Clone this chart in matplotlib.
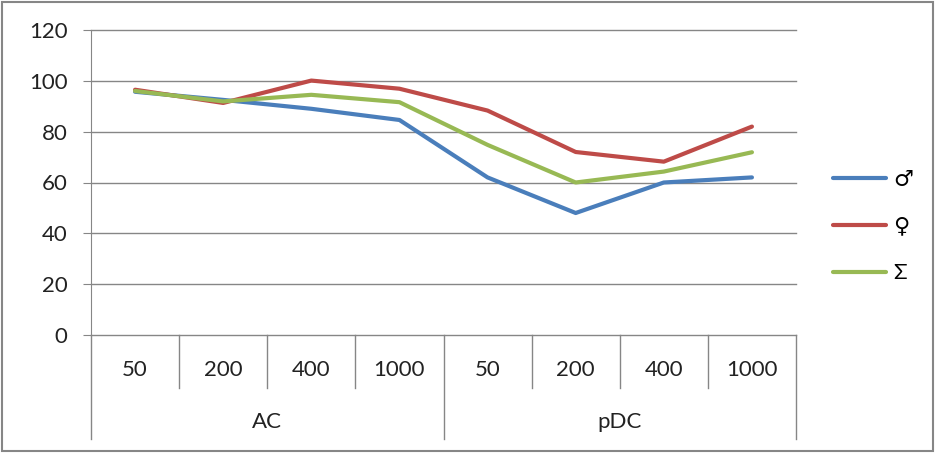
# Package Import
import matplotlib
matplotlib.use('Agg')
import matplotlib.pyplot as plt
from matplotlib.patches import Rectangle

# Data
groups = ['AC', 'pDC']
doses = ['50', '200', '400', '1000']
series_labels = ['\u2642', '\u2640', '\u03a3']
male = [95.7, 92.5, 89.0, 84.6, 62.0, 48.0, 60.0, 62.0]
female = [96.5, 91.3, 100.1, 96.9, 88.3, 72.0, 68.2, 82.0]
total = [96.0, 91.9, 94.5, 91.6, 74.8, 60.0, 64.3, 71.9]
colors = ['#4A7EBB', '#BE4B48', '#98B954']
yticks = [0, 20, 40, 60, 80, 100, 120]

plt.rcParams['font.family'] = ['Lato', 'DejaVu Sans']
grid_col = '#868686'
fs = 16

# Figure
fig = plt.figure(figsize=(9.35, 4.53), dpi=100)
ax = fig.add_axes([91 / 935, 1 - 335 / 453, 705 / 935, 305 / 453])

n = len(groups) * len(doses)
xs = list(range(n))
for vals, col, lab in zip([male, female, total], colors, series_labels):
    ax.plot(xs, vals, color=col, lw=3, label=lab, solid_capstyle='round')

ax.set_xlim(-0.5, n - 0.5)
ax.set_ylim(0, 120)
ax.set_yticks(yticks)
ax.tick_params(axis='y', labelsize=fs, length=6, color=grid_col, pad=11,
               labelcolor='#222222')
ax.set_xticks([])
for y in yticks:
    ax.axhline(y, color=grid_col, lw=1, zorder=0, clip_on=False)
for side in ['top', 'right', 'bottom']:
    ax.spines[side].set_visible(False)
ax.spines['left'].set_color(grid_col)

# Category axis (two levels)
tr = ax.get_xaxis_transform()
for i in range(n):
    ax.text(i, -0.115, doses[i % len(doses)], transform=tr, ha='center',
            va='center', fontsize=fs, color='#222222')
for i in range(1, n):
    if i % len(doses):
        ax.plot([i - 0.5, i - 0.5], [0, -0.175], transform=tr, color=grid_col,
                lw=1, clip_on=False)
for g, name in enumerate(groups):
    mid = g * len(doses) + (len(doses) - 1) / 2
    ax.text(mid, -0.285, name, transform=tr, ha='center', va='center',
            fontsize=fs, color='#222222')
for g in range(len(groups) + 1):
    x = g * len(doses) - 0.5
    ax.plot([x, x], [0, -0.34], transform=tr, color=grid_col, lw=1, clip_on=False)

# Legend
fig.legend(loc='upper left', bbox_to_anchor=(813 / 935, 1 - 150 / 453),
           frameon=False, fontsize=fs, handlelength=2.4, labelspacing=1.2,
           handletextpad=0.3)

# Outer border
fig.patches.append(Rectangle((0.002, 0.004), 0.996, 0.992, transform=fig.transFigure,
                             fill=False, edgecolor=grid_col, lw=1.5))

fig.savefig('out.png', dpi=100)
plt.close()
